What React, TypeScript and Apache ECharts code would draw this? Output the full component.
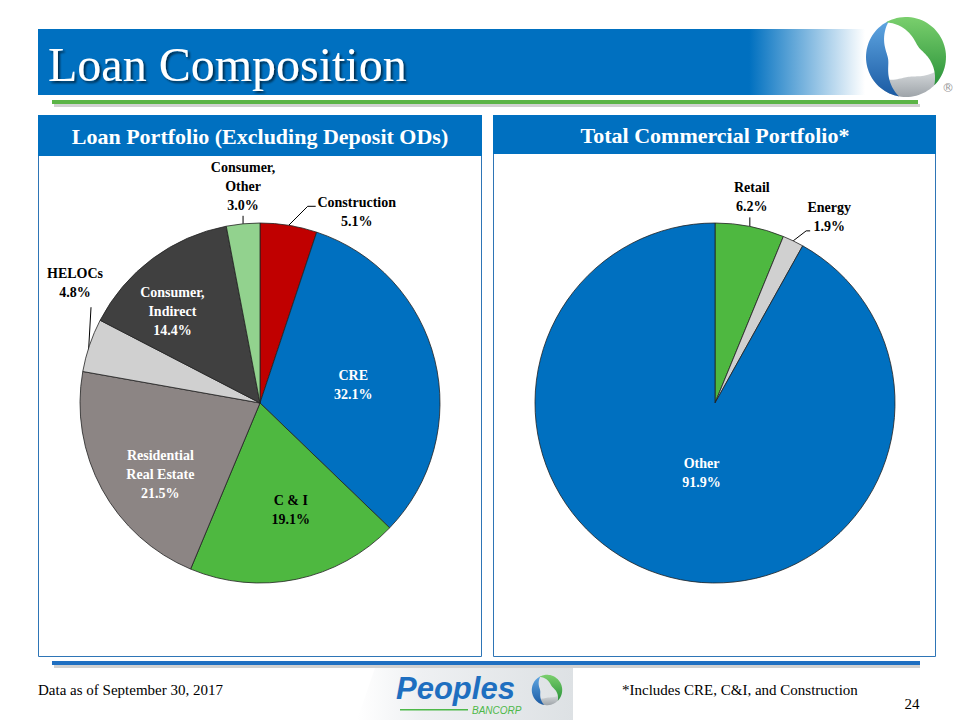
import React, { useEffect, useRef } from "react";
import * as echarts from "echarts";

const LOAN_NAMES = [
  "Construction",
  "CRE",
  "C & I",
  "Residential\nReal Estate",
  "HELOCs",
  "Consumer,\nIndirect",
  "Consumer,\nOther",
];
const LOAN_VALUES = [5.1, 32.1, 19.1, 21.5, 4.8, 14.4, 3.0];
const LOAN_COLORS = ["#C00000", "#0070C0", "#4EB840", "#8C8584", "#D0D0D0", "#404040", "#92D28E"];
const LOAN_INSIDE = [false, true, true, true, false, true, false];
const LOAN_LABEL_COLORS = ["#000", "#fff", "#000", "#fff", "#000", "#fff", "#000"];

const COMM_NAMES = ["Retail", "Energy", "Other"];
const COMM_VALUES = [6.2, 1.9, 91.9];
const COMM_COLORS = ["#4EB840", "#D0D0D0", "#0070C0"];
const COMM_INSIDE = [false, false, true];
const COMM_LABEL_COLORS = ["#000", "#000", "#fff"];

const TITLE = "Loan Composition";
const LEFT_HEADER = "Loan Portfolio (Excluding Deposit ODs)";
const RIGHT_HEADER = "Total Commercial Portfolio*";
const FOOT_LEFT = "Data as of September 30, 2017";
const FOOT_RIGHT = "*Includes CRE, C&I, and Construction";
const PAGE_NO = "24";

const SERIF = "'Liberation Serif', 'DejaVu Serif', serif";
const BLUE = "#0070C0";

// crescent outline for the decorative logo, as polygon points
function crescentPoints(cx: number, cy: number, a1: number, a2: number, R: number, thick: number) {
  const n = 40;
  const pts: number[][] = [];
  for (let k = 0; k <= n; k++) {
    const a = ((a1 + ((a2 - a1) * k) / n) * Math.PI) / 180;
    pts.push([cx + R * Math.cos(a), cy + R * Math.sin(a)]);
  }
  for (let k = n; k >= 0; k--) {
    const t = k / n;
    const a = ((a1 + (a2 - a1) * t) * Math.PI) / 180;
    const r = R - thick * Math.sin(Math.PI * t);
    pts.push([cx + r * Math.cos(a), cy + r * Math.sin(a)]);
  }
  return pts;
}

function logoParts(x: number, y: number, s: number) {
  const grad = (c1: string, c2: string) =>
    new echarts.graphic.LinearGradient(0, 0, 0, 1, [
      { offset: 0, color: c1 },
      { offset: 1, color: c2 },
    ]);
  return [
    {
      type: "polygon",
      shape: { points: crescentPoints(x, y, 10, 155, 40 * s, 20 * s) },
      style: { fill: grad("#E4E7E9", "#9EA4A9") },
      z: 3,
    },
    {
      type: "polygon",
      shape: { points: crescentPoints(x, y, 100, 245, 40 * s, 22 * s) },
      style: { fill: grad("#5FA6E2", "#1A5AA3") },
      z: 4,
    },
    {
      type: "polygon",
      shape: { points: crescentPoints(x, y, -120, 45, 40 * s, 24 * s) },
      style: { fill: grad("#7ACF6D", "#2A933A") },
      z: 4,
    },
  ];
}

function fmt(p: any) {
  return `${p.name}\n${Number(p.value).toFixed(1)}%`;
}

function buildData(names: string[], values: number[], colors: string[], inside: boolean[], labelColors: string[]) {
  return names.map((n, i) => ({
    name: n,
    value: values[i],
    itemStyle: { color: colors[i] },
    label: {
      position: inside[i] ? "inside" : "outside",
      color: labelColors[i],
    },
    labelLine: { show: !inside[i] },
  }));
}

function loanLayout(p: any) {
  const i = p.dataIndex;
  const pts = p.labelLinePoints;
  if (i === 1) return { dx: 3, dy: 4 };
  if (i === 2) return { dx: 12, dy: 16 };
  if (i === 3) return { dx: -18, dy: 27 };
  if (i === 5) return { dx: -32, dy: -17 };
  if (!pts || !pts.length) return {};
  const ex = pts[0][0];
  const ey = pts[0][1];
  if (i === 0) {
    return {
      x: ex + 68,
      y: ey - 13,
      align: "center",
      verticalAlign: "middle",
      labelLinePoints: [[ex, ey], [ex + 19, ey - 19], [ex + 27, ey - 19]],
    };
  }
  if (i === 4) {
    return {
      x: ex - 14.5,
      y: ey - 43,
      align: "center",
      verticalAlign: "bottom",
      labelLinePoints: [[ex - 1, ey + 6], [ex + 1.5, ey - 38], [ex + 1.5, ey - 38]],
    };
  }
  if (i === 6) {
    return {
      x: ex,
      y: ey - 9,
      align: "center",
      verticalAlign: "bottom",
      labelLinePoints: [[ex, ey], [ex, ey - 8], [ex, ey - 8]],
    };
  }
  return {};
}

function commLayout(p: any) {
  const i = p.dataIndex;
  const pts = p.labelLinePoints;
  if (i === 2) return { dx: 10, dy: -20 };
  if (!pts || !pts.length) return {};
  const ex = pts[0][0];
  const ey = pts[0][1];
  if (i === 0) {
    return {
      x: ex + 2,
      y: ey - 10,
      align: "center",
      verticalAlign: "bottom",
      labelLinePoints: [[ex, ey], [ex, ey - 9], [ex, ey - 9]],
    };
  }
  if (i === 1) {
    return {
      x: ex + 36,
      y: ey - 24,
      align: "center",
      verticalAlign: "middle",
      labelLinePoints: [[ex, ey], [ex + 13, ey - 10], [ex + 17, ey - 10]],
    };
  }
  return {};
}

export default function App() {
  const ref = useRef<HTMLDivElement>(null);

  useEffect(() => {
    if (!ref.current) return;
    const chart = echarts.init(ref.current, null, { renderer: "svg" });

    const labelBase = {
      show: true,
      formatter: fmt,
      fontFamily: SERIF,
      fontSize: 14,
      fontWeight: "bold",
      lineHeight: 19,
    };

    const option: any = {
      animation: false,
      backgroundColor: "#ffffff",
      graphic: [
        // title bar with fade to white
        {
          type: "rect",
          shape: { x: 38, y: 29, width: 827, height: 66 },
          style: {
            fill: new echarts.graphic.LinearGradient(0, 0, 1, 0, [
              { offset: 0, color: BLUE },
              { offset: 0.86, color: BLUE },
              { offset: 1, color: "#ffffff" },
            ]),
          },
          z: 0,
        },
        {
          type: "text",
          x: 48,
          y: 64,
          style: {
            text: TITLE,
            fill: "#ffffff",
            font: `48px ${SERIF}`,
            verticalAlign: "middle",
            textShadowColor: "rgba(0,0,0,0.6)",
            textShadowBlur: 2,
            textShadowOffsetX: 2,
            textShadowOffsetY: 2,
          },
          z: 2,
        },
        // green rule with shadow
        { type: "rect", shape: { x: 54, y: 104, width: 866, height: 3 }, style: { fill: "rgba(0,0,0,0.18)" }, z: 0 },
        { type: "rect", shape: { x: 52, y: 100, width: 866, height: 4 }, style: { fill: "#5BB446" }, z: 1 },
        // logo top-right
        ...logoParts(906, 57, 1),
        {
          type: "text",
          x: 948,
          y: 88,
          style: { text: "®", fill: "#999", font: `12px 'DejaVu Sans', sans-serif`, align: "center", verticalAlign: "middle" },
          z: 3,
        },
        // left panel
        {
          type: "rect",
          shape: { x: 38.5, y: 115.5, width: 443, height: 541 },
          style: { fill: "none", stroke: "#2E75B6", lineWidth: 1 },
          z: 0,
        },
        { type: "rect", shape: { x: 38, y: 115, width: 444, height: 41 }, style: { fill: BLUE }, z: 1 },
        {
          type: "text",
          x: 260,
          y: 136,
          style: {
            text: LEFT_HEADER,
            fill: "#ffffff",
            font: `bold 22px ${SERIF}`,
            align: "center",
            verticalAlign: "middle",
          },
          z: 2,
        },
        // right panel
        {
          type: "rect",
          shape: { x: 493.5, y: 115.5, width: 442, height: 541 },
          style: { fill: "none", stroke: "#2E75B6", lineWidth: 1 },
          z: 0,
        },
        { type: "rect", shape: { x: 493, y: 115, width: 443, height: 39 }, style: { fill: BLUE }, z: 1 },
        {
          type: "text",
          x: 715,
          y: 135,
          style: {
            text: RIGHT_HEADER,
            fill: "#ffffff",
            font: `bold 22px ${SERIF}`,
            align: "center",
            verticalAlign: "middle",
          },
          z: 2,
        },
        // bottom rule
        { type: "rect", shape: { x: 54, y: 665, width: 866, height: 3 }, style: { fill: "rgba(0,0,0,0.18)" }, z: 0 },
        { type: "rect", shape: { x: 52, y: 661, width: 868, height: 4 }, style: { fill: "#1F6FC1" }, z: 1 },
        // footer texts
        {
          type: "text",
          x: 38,
          y: 690,
          style: { text: FOOT_LEFT, fill: "#000", font: `15px ${SERIF}`, verticalAlign: "middle" },
          z: 2,
        },
        {
          type: "text",
          x: 622,
          y: 690,
          style: { text: FOOT_RIGHT, fill: "#000", font: `15px ${SERIF}`, verticalAlign: "middle" },
          z: 2,
        },
        {
          type: "text",
          x: 912,
          y: 704,
          style: { text: PAGE_NO, fill: "#000", font: `15px ${SERIF}`, align: "center", verticalAlign: "middle" },
          z: 2,
        },
        // Peoples Bancorp logo
        {
          type: "polygon",
          shape: { points: [[375, 668], [573, 668], [573, 720], [357, 720]] },
          style: {
            fill: new echarts.graphic.LinearGradient(0, 0, 1, 0, [
              { offset: 0, color: "#ffffff" },
              { offset: 0.3, color: "#EEF0F2" },
              { offset: 1, color: "#DDE1E4" },
            ]),
          },
          z: 1,
        },
        {
          type: "text",
          x: 396,
          y: 688,
          style: {
            text: "Peoples",
            fill: "#1E6FC0",
            font: `italic bold 31px 'Liberation Sans', 'DejaVu Sans', sans-serif`,
            verticalAlign: "middle",
          },
          z: 2,
        },
        { type: "rect", shape: { x: 400, y: 709, width: 68, height: 1.5 }, style: { fill: "#4DB848" }, z: 2 },
        {
          type: "text",
          x: 472,
          y: 710,
          style: {
            text: "BANCORP",
            fill: "#4DB848",
            font: `italic 10px 'Liberation Sans', 'DejaVu Sans', sans-serif`,
            verticalAlign: "middle",
          },
          z: 2,
        },
        ...logoParts(547, 690, 0.38),
      ],
      series: [
        {
          type: "pie",
          center: [260, 403],
          radius: 180,
          startAngle: 90,
          clockwise: true,
          avoidLabelOverlap: false,
          itemStyle: { borderColor: "#222", borderWidth: 0.8 },
          label: labelBase,
          labelLine: { show: true, length: 8, length2: 10, lineStyle: { color: "#000", width: 1 } },
          labelLayout: loanLayout,
          emphasis: { disabled: true },
          data: buildData(LOAN_NAMES, LOAN_VALUES, LOAN_COLORS, LOAN_INSIDE, LOAN_LABEL_COLORS),
        },
        {
          type: "pie",
          center: [715, 403],
          radius: 180,
          startAngle: 90,
          clockwise: true,
          avoidLabelOverlap: false,
          itemStyle: { borderColor: "#222", borderWidth: 0.8 },
          label: labelBase,
          labelLine: { show: true, length: 8, length2: 10, lineStyle: { color: "#000", width: 1 } },
          labelLayout: commLayout,
          emphasis: { disabled: true },
          data: buildData(COMM_NAMES, COMM_VALUES, COMM_COLORS, COMM_INSIDE, COMM_LABEL_COLORS),
        },
      ],
    };

    chart.setOption(option);
    return () => chart.dispose();
  }, []);

  return (
    <div
      ref={ref}
      style={{ position: "absolute", left: 0, top: 0, width: 960, height: 720, background: "#fff" }}
    />
  );
}
